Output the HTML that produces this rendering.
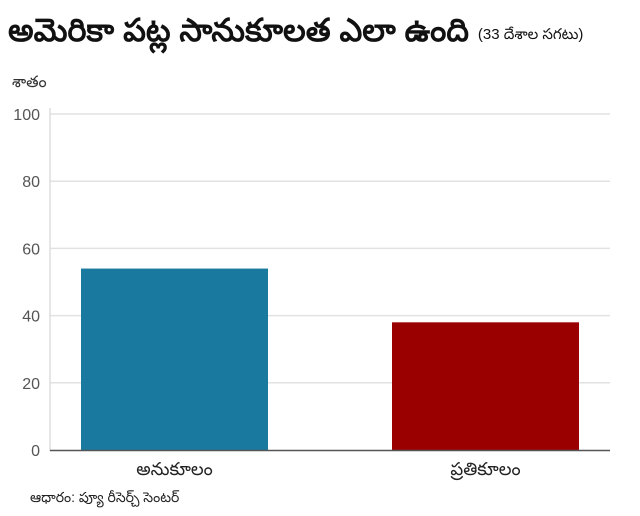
<!DOCTYPE html>
<html><head><meta charset="utf-8"><style>
body{margin:0;background:#fff;}
svg{display:block;font-family:"Liberation Sans","Noto Sans CJK SC",sans-serif;}
</style></head><body>
<svg id="chart" width="640" height="516" viewBox="0 0 640 516">
<text x="8" y="41" font-size="32" font-weight="bold" fill="#111">అమెరికా పట్ల సానుకూలత ఎలా ఉంది <tspan font-size="15" font-weight="normal" dy="-2">(33 దేశాల సగటు)</tspan></text>
<text x="12" y="87" font-size="16" fill="#333">శాతం</text>
<g id="grid"></g><g id="bars"></g><g id="labels"></g>
<line x1="50" y1="108" x2="50" y2="451" stroke="#ddd" stroke-width="1.5"/>
<line x1="50" y1="450.5" x2="610" y2="450.5" stroke="#555" stroke-width="1.5"/>
<text x="30" y="502" font-size="14" fill="#222">ఆధారం: ప్యూ రీసెర్చ్ సెంటర్</text>
</svg>
<script>
const categories=["అనుకూలం","ప్రతికూలం"];
const values=[54,38];
const colors=["#19799f","#9a0000"];
const ticks=[0,20,40,60,80,100];
const NS="http://www.w3.org/2000/svg";
const y0=450,y100=114,left=50,right=610;
function y(v){return y0-(y0-y100)*v/100;}
const step=311,firstX=81,bw=187;
function band(i){return firstX+step*i;}
const grid=document.getElementById('grid'),bars=document.getElementById('bars'),labels=document.getElementById('labels');
ticks.forEach(t=>{
 if(t>0){const l=document.createElementNS(NS,'line');
 l.setAttribute('x1',left);l.setAttribute('x2',right);l.setAttribute('y1',y(t));l.setAttribute('y2',y(t));
 l.setAttribute('stroke','#e2e2e2');l.setAttribute('stroke-width','1.5');
 
 
 grid.appendChild(l);}
 const tx=document.createElementNS(NS,'text');
 tx.setAttribute('x',40);tx.setAttribute('y',y(t)+6);tx.setAttribute('text-anchor','end');
 tx.setAttribute('font-size','16');tx.setAttribute('fill','#555');tx.textContent=t;
 
 
 grid.appendChild(tx);
});
categories.forEach((c,i)=>{
 const x=band(i),w=bw;
 const r=document.createElementNS(NS,'rect');
 r.setAttribute('x',x);r.setAttribute('width',w);r.setAttribute('y',y(values[i]));r.setAttribute('height',y0-y(values[i]));
 r.setAttribute('fill',colors[i]);
 
 
 bars.appendChild(r);
 const tx=document.createElementNS(NS,'text');
 tx.setAttribute('x',x+w/2);tx.setAttribute('y',475);tx.setAttribute('text-anchor','middle');
 tx.setAttribute('font-size','18');tx.setAttribute('fill','#222');tx.textContent=c;
 
 
 labels.appendChild(tx);
});
</script>
</body></html>
